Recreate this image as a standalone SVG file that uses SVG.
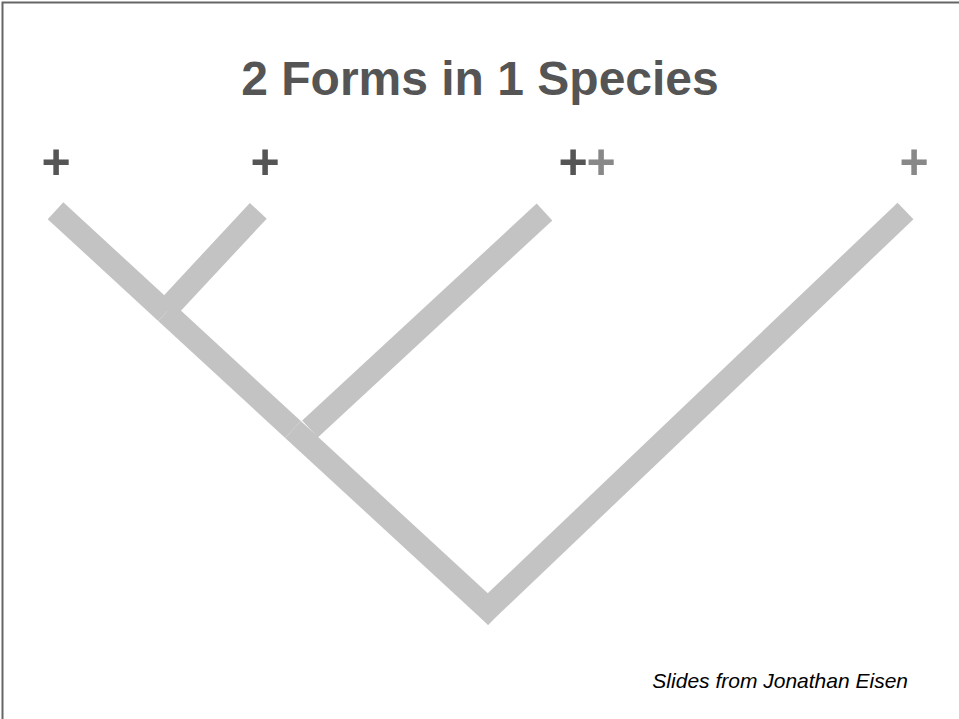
<svg xmlns="http://www.w3.org/2000/svg" width="959" height="719" viewBox="0 0 959 719">
<style>
.br{stroke:#c3c3c3;stroke-width:23;fill:none;stroke-linecap:butt}
.t{font-family:"Liberation Sans",Arial,sans-serif}
.pd{font-weight:bold;font-size:50px;fill:#555;text-anchor:middle}
.pl{font-weight:bold;font-size:50px;fill:#888;text-anchor:middle}
</style>
<rect width="959" height="719" fill="#fff"/>
<path d="M2.5 719V2.5H959" stroke="#666" stroke-width="2" fill="none"/>
<g id="title"><text class="t" x="480" y="95" font-size="48" font-weight="bold" fill="#555" text-anchor="middle">2 Forms in 1 Species</text></g>
<g id="connectors">
<line class="br" x1="55.5" y1="210.7" x2="166" y2="312.5"/>
<line class="br" x1="166" y1="312.5" x2="293" y2="429.5"/>
<line class="br" x1="293" y1="429.5" x2="496" y2="616.5"/>
<line class="br" x1="258.3" y1="210.8" x2="166" y2="310"/>
<line class="br" x1="544.5" y1="212" x2="310" y2="429"/>
<line class="br" x1="905.5" y1="211" x2="480" y2="616.5"/>
</g>
<g id="tip1"><text class="t pd" x="56" y="179">+</text></g>
<g id="tip2"><text class="t pd" x="265" y="179">+</text></g>
<g id="tip3"><text class="t pd" x="573" y="179">+</text><text class="t pl" x="601" y="179">+</text></g>
<g id="tip4"><text class="t pl" x="914" y="179">+</text></g>
<g id="footer"><text class="t" x="908" y="688" font-size="21" font-style="italic" fill="#000" text-anchor="end">Slides from Jonathan Eisen</text></g>
</svg>
